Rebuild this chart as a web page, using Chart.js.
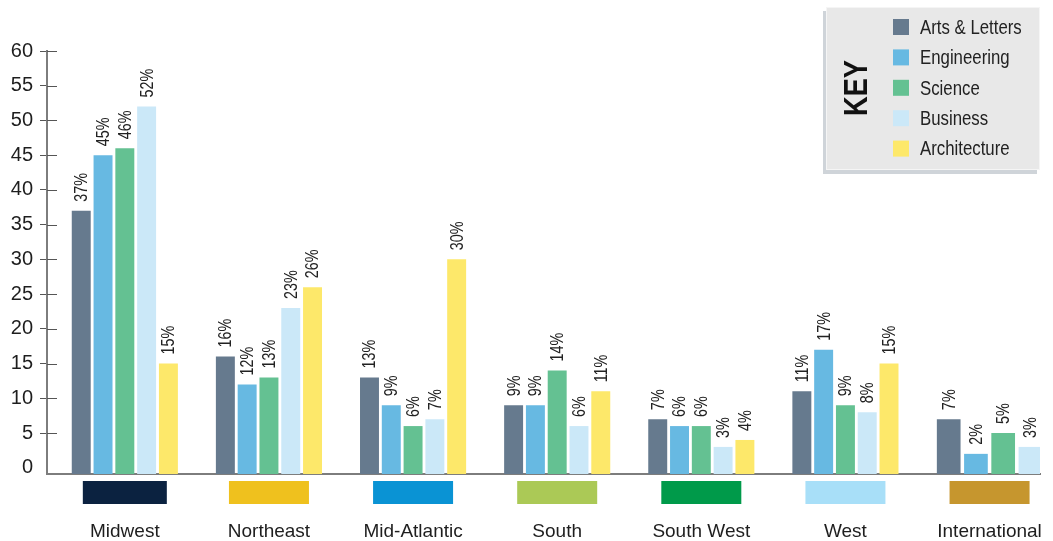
<!DOCTYPE html>
<html>
<head>
<meta charset="utf-8">
<title>Regiões por área</title>
<script src="https://cdn.jsdelivr.net/npm/chart.js@4.4.1/dist/chart.umd.min.js"></script>
<style>
    html, body { margin: 0; padding: 0; background: #fff; overflow: hidden; }
    .wrap { position: relative; width: 1053px; height: 541px; }
</style>
</head>
<body>
<div class="wrap"><canvas id="regionChart"></canvas></div>
<script>
"use strict";

// dados por região (percentual de alunos)
const regioes = ["Midwest", "Northeast", "Mid-Atlantic", "South", "South West", "West", "International"];
const nomesSeries = ["Arts & Letters", "Engineering", "Science", "Business", "Architecture"];
const artsLetters = [37, 16, 13, 9, 7, 11, 7];
const engineering = [45, 12, 9, 9, 6, 17, 2];
const science = [46, 13, 6, 14, 6, 9, 5];
const business = [52, 23, 7, 6, 3, 8, 3];
const architecture = [15, 26, 30, 11, 4, 15, null];
const ticksY = [0, 5, 10, 15, 20, 25, 30, 35, 40, 45, 50, 55, 60];

const coresSeries = ["#667a8e", "#67b9e2", "#64c192", "#cbe8f8", "#fde86a"];
const coresRegiao = ["#0b2240", "#efc11e", "#0a93d4", "#abc956", "#009a4a", "#a8dff8", "#c6962e"];

const FONTE = "'Liberation Sans', Arial, sans-serif";
const ESTREITO = 0.8; // aperta o texto na horizontal (fonte condensada)
Chart.defaults.font.family = FONTE;

const ctxRegion = document.getElementById("regionChart");

function textoEstreito(ctx, texto, x, y, angulo) {
    ctx.save();
    ctx.translate(x, y);
    if (angulo) ctx.rotate(angulo);
    ctx.scale(ESTREITO, 1);
    ctx.fillText(texto, 0, 0);
    ctx.restore();
}

// rótulo "NN%" girado em cima de cada barra
const rotuloValores = {
    id: "rotuloValores",
    afterDatasetsDraw(chart) {
        const ctx = chart.ctx;
        ctx.save();
        ctx.font = `18px ${FONTE}`;
        ctx.fillStyle = "#222";
        ctx.textAlign = "left";
        ctx.textBaseline = "middle";
        chart.data.datasets.forEach((ds, i) => {
            const meta = chart.getDatasetMeta(i);
            meta.data.forEach((bar, j) => {
                const valor = ds.data[j];
                if (valor === null) return;
                textoEstreito(ctx, `${valor}%`, bar.x + 1, bar.y - 9, -Math.PI / 2);
            });
        });
        ctx.restore();
    },
};

// faixa colorida de cada região embaixo do eixo
const faixasRegiao = {
    id: "faixasRegiao",
    afterDraw(chart) {
        const ctx = chart.ctx;
        const x = chart.scales.x;
        const topo = chart.chartArea.bottom + 7;
        ctx.save();
        regioes.forEach((_, i) => {
            const cx = x.getPixelForValue(i);
            const larg = i === 0 ? 84 : 80;
            ctx.fillStyle = coresRegiao[i];
            ctx.fillRect(cx - larg / 2, topo, larg, 23);
        });
        ctx.restore();
    },
};

// parte interna das marcas do eixo Y
const marcasEixoY = {
    id: "marcasEixoY",
    afterDraw(chart) {
        const ctx = chart.ctx;
        const y = chart.scales.y;
        const left = chart.chartArea.left;
        ctx.save();
        ctx.strokeStyle = "#555";
        ctx.lineWidth = 1;
        ctx.beginPath();
        y.ticks.forEach((t) => {
            if (t.value === 0) return;
            const py = Math.round(y.getPixelForValue(t.value)) + 0.5;
            ctx.moveTo(left, py);
            ctx.lineTo(left + 10, py);
        });
        ctx.stroke();
        ctx.restore();
    },
};

// caixa "KEY" no canto superior direito
const caixaLegenda = {
    id: "caixaLegenda",
    afterDraw(chart) {
        const ctx = chart.ctx;
        ctx.save();
        ctx.fillStyle = "#cfd4d9";
        ctx.fillRect(823, 11, 214, 163);
        ctx.fillStyle = "#e8e8e8";
        ctx.fillRect(826, 7, 214, 163);
        ctx.strokeStyle = "#f5f5f5";
        ctx.lineWidth = 1;
        ctx.strokeRect(826.5, 7.5, 213, 162);

        ctx.font = `bold 34px ${FONTE}`;
        ctx.fillStyle = "#111";
        ctx.textAlign = "center";
        ctx.textBaseline = "middle";
        textoEstreito(ctx, "KEY", 858, 88, -Math.PI / 2);

        ctx.font = `21px ${FONTE}`;
        ctx.textAlign = "left";
        chart.data.datasets.forEach((ds, i) => {
            const cy = 27 + i * 30.4;
            ctx.fillStyle = ds.backgroundColor;
            ctx.fillRect(893, cy - 8, 16, 16);
            ctx.fillStyle = "#222";
            textoEstreito(ctx, ds.label, 920, cy + 1);
        });
        ctx.restore();
    },
};

const series = [artsLetters, engineering, science, business, architecture];

const regionChart = new Chart(ctxRegion, {
    type: "bar",
    data: {
        labels: regioes,
        datasets: series.map((valores, i) => ({
            label: nomesSeries[i],
            data: valores,
            backgroundColor: coresSeries[i],
        })),
    },
    options: {
        responsive: true,
        maintainAspectRatio: false,
        animation: false,
        layout: {
            padding: { top: 51, right: 13, bottom: 0, left: 0 },
        },
        datasets: {
            bar: {
                categoryPercentage: 0.756,
                barPercentage: 0.87,
                skipNull: true,
                base: -0.9,
            },
        },
        plugins: {
            legend: { display: false },
            tooltip: { enabled: false },
        },
        scales: {
            x: {
                offset: true,
                grid: {
                    drawOnChartArea: false,
                    drawTicks: true,
                    tickLength: 46,
                    tickColor: "transparent",
                },
                border: { color: "#7d7d7d", width: 2 },
                ticks: {
                    autoSkip: false,
                    maxRotation: 0,
                    padding: 0,
                    color: "#1e1e1e",
                    font: { size: 19 },
                },
                // regiões não ficam igualmente espaçadas até a borda direita
                afterBuildTicks: (scale) => {
                    scale._startValue = -0.54;
                    scale._valueRange = 6.89;
                },
                afterFit: (scale) => {
                    scale.height = 67;
                },
            },
            y: {
                min: -0.9,
                max: 60,
                afterBuildTicks: (scale) => {
                    scale.ticks = ticksY.map((v) => ({ value: v }));
                },
                grid: {
                    drawOnChartArea: false,
                    tickLength: 7,
                    tickColor: (c) => (c.tick && c.tick.value === 0 ? "transparent" : "#555"),
                    tickWidth: 1,
                },
                border: { color: "#7d7d7d", width: 2 },
                ticks: {
                    padding: 7,
                    color: "#1e1e1e",
                    font: { size: 20 },
                },
                afterFit: (scale) => {
                    scale.width = 47;
                },
            },
        },
    },
    plugins: [rotuloValores, faixasRegiao, marcasEixoY, caixaLegenda],
});
</script>
</body>
</html>
